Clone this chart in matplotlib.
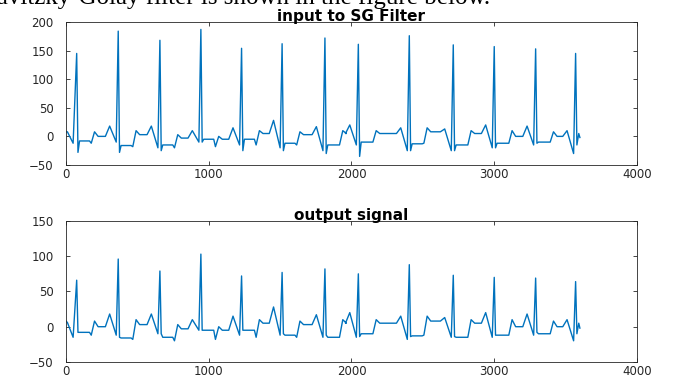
import matplotlib
matplotlib.use("Agg")
import matplotlib.pyplot as plt

# R-peak sample positions and per-beat values
r_pos = [75, 366, 658, 945, 1230, 1514, 1814, 2048, 2405, 2713, 3000, 3290, 3570]
top_peak = [145, 184, 168, 187, 154, 162, 172, 161, 176, 160, 157, 153, 145]
bot_peak = [66, 96, 79, 103, 72, 77, 82, 75, 88, 73, 70, 69, 64]
top_s = [-28, -28, -25, -10, -25, -25, -30, -35, -25, -25, -20, -12, -15]
bot_s = [-8, -15, -10, -5, -5, -10, -12, -14, -14, -14, -12, -8, -10]

# segment between beat i and beat i+1
st_lvl = [-8, -16, -15, -5, -5, -12, -15, -10, -13, -15, -12, -10]
st_dip = [-12, -18, -20, -18, -15, -15, -15, -10, -12, -15, -12, -10]
t_wave = [8, 10, 3, 0, 10, 8, 10, 10, 15, 10, 10, 8]
plateau = [0, 3, -3, -5, 5, 3, 5, 5, 8, 5, 0, 0]
p_wave = [18, 18, 10, 15, 28, 17, 20, 15, 13, 20, 18, 10]
top_q = [-10, -20, -10, -15, -20, -25, -15, -25, -25, -20, -15, -30]
bot_q = [-12, -10, -5, -12, -12, -15, -15, -18, -15, -15, -12, -20]

# start / end of the record
start_x = [0, 10, 50]
start_top = [8, 8, -12]
start_bot = [8, 6, -15]
end_x = [3592, 3600]
end_y = [5, -2]


def build(peaks, s_vals, q_vals, start_y):
    xs = list(start_x)
    ys = list(start_y)
    for i in range(len(r_pos) - 1):
        r, rn = r_pos[i], r_pos[i + 1]
        xs += [r, r + 9, r + 20, r + 90, r + 102, r + 125, r + 150,
               rn - 90, rn - 60, rn - 14]
        ys += [peaks[i], s_vals[i], st_lvl[i], st_lvl[i], st_dip[i],
               t_wave[i], plateau[i], plateau[i], p_wave[i], q_vals[i]]
    xs += [r_pos[-1], r_pos[-1] + 9] + end_x
    ys += [peaks[-1], s_vals[-1]] + end_y
    return xs, ys


line_col = "#0072BD"
tick_col = "#262626"

fig = plt.figure(figsize=(6.76, 3.81), dpi=100)
# document text above the figure, mostly cut off by the top edge
fig.text(490 / 676, 1 - 4 / 381, "Savitzky-Golay filter is shown in the figure below.",
         family="Liberation Serif", fontsize=18, ha="right", va="baseline")

ax1 = fig.add_axes([0.0976, 0.567, 0.8447, 0.3753])
ax2 = fig.add_axes([0.0976, 0.050, 0.8447, 0.3700])

x1, y1 = build(top_peak, top_s, top_q, start_top)
x2, y2 = build(bot_peak, bot_s, bot_q, start_bot)

ax1.plot(x1, y1, color=line_col, lw=1.0)
ax2.plot(x2, y2, color=line_col, lw=1.0)

ax1.set_ylim(-50, 200)
ax1.set_yticks([-50, 0, 50, 100, 150, 200])
ax2.set_ylim(-50, 150)
ax2.set_yticks([-50, 0, 50, 100, 150])

for ax, title in [(ax1, "input to SG Filter"), (ax2, "output signal")]:
    ax.set_xlim(0, 4000)
    ax.set_xticks([0, 1000, 2000, 3000, 4000])
    ax.tick_params(direction="in", top=True, right=True, length=3,
                   width=0.6, color=tick_col, labelcolor=tick_col,
                   labelsize=8.5)
    ax.tick_params(axis="x", pad=2.5)
    ax.tick_params(axis="y", pad=9)
    for lab in ax.get_xticklabels() + ax.get_yticklabels():
        lab.set_family("DejaVu Sans")
    for sp in ax.spines.values():
        sp.set_color(tick_col)
        sp.set_linewidth(0.6)
    ax.set_title(title, fontsize=11, fontweight="bold", family="DejaVu Sans", pad=1)

fig.savefig("out.png", dpi=100)
